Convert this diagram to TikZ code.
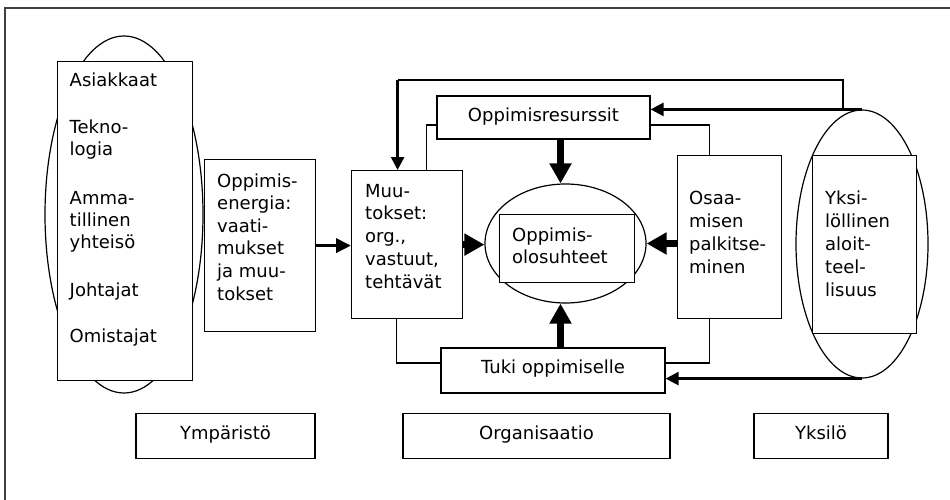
\documentclass[tikz,border=0pt]{standalone}
\usepackage{fontspec}
\setmainfont{DejaVu Sans}
\usetikzlibrary{shapes.geometric,arrows.meta}
% left-aligned stack of lines whose baseline is the first line
\newcommand{\mlines}[1]{\begin{tabular}[t]{@{}l@{}}#1\end{tabular}}
\begin{document}
\begin{tikzpicture}[x=1pt,y=-1pt,
  every node/.style={font=\fontsize{18}{22.8}\selectfont},
  frame/.style={draw=black!75,line width=1.3pt},
  box/.style={draw,line width=1.2pt,fill=white,rectangle,inner sep=0pt,anchor=north west},
  labelbox/.style={draw,line width=1.2pt,fill=white,rectangle,inner sep=0pt,
    text height=13pt,text depth=5pt},
  oval/.style={draw,line width=1.2pt,ellipse,inner sep=0pt},
  txt/.style={anchor=base west,inner sep=0pt},
  link/.style={line width=1.2pt},
  bigarrow/.style={line width=6.5pt,-{Triangle[length=20pt,width=21pt]}},
  midarrow/.style={line width=3.5pt,-{Triangle[length=15pt,width=14pt]}},
  backarrow/.style={line width=2.5pt,-{Triangle[length=13pt,width=13pt]}},
]
\useasboundingbox (0,0) rectangle (950,500);

% page frame (top and left edges)
\coordinate (fTL) at (5,8);
\coordinate (fTR) at (950,8);
\coordinate (fBL) at (5,500);
\draw[frame] (fTR) -- (fTL) -- (fBL);

% ovals behind the boxes
\node[oval,minimum width=158pt,minimum height=357pt] (envov) at (124,214.5) {};
\node[oval,minimum width=161pt,minimum height=119pt] (ce) at (565.5,243.5) {};
\node[oval,minimum width=132pt,minimum height=268pt] (yk) at (862,244) {};

% boxes
\node[box,minimum width=135pt,minimum height=319pt] (env) at (57,61) {};
\node[box,minimum width=111pt,minimum height=172pt] (oe) at (204,159) {};
\node[box,minimum width=111pt,minimum height=148pt] (muut) at (351,170) {};
\node[labelbox,minimum width=213pt,minimum height=43pt,text depth=4.6pt] (resurs) at (543.5,117.5) {Oppimisresurssit};
\node[box,minimum width=135pt,minimum height=68pt] (inner) at (499,214) {};
\node[box,minimum width=104pt,minimum height=163pt] (osaam) at (677,155) {};
\node[box,minimum width=104pt,minimum height=178pt] (ykbox) at (812,155) {};
\node[labelbox,minimum width=224pt,minimum height=45pt,text depth=7.5pt] (tuki) at (553,370.5) {Tuki oppimiselle};

\node[labelbox,minimum width=179pt,minimum height=45pt,text depth=6pt] (ymp) at (225.5,435.8) {Ympäristö};
\node[labelbox,minimum width=267pt,minimum height=45pt,text depth=6pt] (org) at (536.5,435.8) {Organisaatio};
\node[labelbox,minimum width=134pt,minimum height=45pt,text depth=6pt] (yks) at (821,435.8) {Yksilö};

% texts inside the boxes
\begin{scope}[every node/.style={font=\fontsize{18}{22}\selectfont}]
\node[txt] (t1) at (69.5,87) {Asiakkaat};
\node[txt] (t2) at (69.5,134) {\mlines{Tekno-\\logia}};
\node[txt] (t3) at (69.5,204) {\mlines{Amma-\\tillinen\\yhteisö}};
\node[txt] (t4) at (69.5,296) {Johtajat};
\node[txt] (t5) at (69.5,342) {Omistajat};
\node[txt] (tin) at (512,241) {\mlines{Oppimis-\\olosuhteet}};
\end{scope}
\begin{scope}[every node/.style={font=\fontsize{18}{22.6}\selectfont}]
\node[txt] (toe) at (217,187) {\mlines{Oppimis-\\energia:\\vaati-\\mukset\\ja muu-\\tokset}};
\end{scope}
\node[txt] (tmu) at (365,197) {\mlines{Muu-\\tokset:\\org.,\\vastuut,\\tehtävät}};
\begin{scope}[every node/.style={font=\fontsize{18}{23}\selectfont}]
\node[txt] (tos) at (689,204) {\mlines{Osaa-\\misen\\palkitse-\\minen}};
\node[txt] (tyk) at (825,204) {\mlines{Yksi-\\löllinen\\aloit-\\teel-\\lisuus}};
\end{scope}

% thin links to the organisation boxes
\draw[link] ([yshift=-7.5pt]resurs.west) -| ([xshift=19.5pt]muut.north);
\draw[link] ([yshift=-7.5pt]resurs.east) -| ([xshift=-20pt]osaam.north);
\draw[link] ([xshift=-10.5pt]muut.south) |- ([yshift=7.5pt]tuki.west);
\draw[link] ([xshift=-20pt]osaam.south) |- ([yshift=7.5pt]tuki.east);

% feedback from the individual
\coordinate (topturn) at ([xshift=-9.5pt,yshift=90pt]muut.north);
\draw[line width=1.6pt] ([xshift=-19pt]yk.north) |- (topturn);
\draw[backarrow] (topturn) -- ([xshift=-9.5pt]muut.north);
\draw[backarrow] (yk.north) -- (yk.north -| resurs.east);
\draw[backarrow] (yk.south) -- (yk.south -| tuki.east);

% main flows
\draw[midarrow] (oe.east) -- (oe.east -| muut.west);
\draw[bigarrow] (muut.east) -- (muut.east -| ce.west);
\draw[bigarrow] (osaam.west |- ce.east) -- (ce.east);
\draw[bigarrow] ([xshift=-5pt]ce.north |- resurs.south) -- ([xshift=-5pt]ce.north);
\draw[bigarrow] ([xshift=-5pt]ce.south |- tuki.north) -- ([xshift=-5pt]ce.south);
\end{tikzpicture}
\end{document}
